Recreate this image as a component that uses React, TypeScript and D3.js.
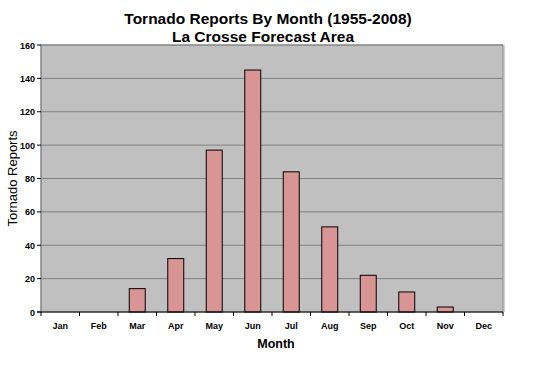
import * as d3 from "d3";

const months = ["Jan", "Feb", "Mar", "Apr", "May", "Jun", "Jul", "Aug", "Sep", "Oct", "Nov", "Dec"];
const reports = [0, 0, 14, 32, 97, 145, 84, 51, 22, 12, 3, 0];
const yTicks = [0, 20, 40, 60, 80, 100, 120, 140, 160];

const W = 540, H = 368;
const plot = { left: 41, right: 503, top: 45, bottom: 312 };

const x = d3.scaleBand()
  .domain(months)
  .range([plot.left, plot.right])
  .paddingInner(0.585)
  .paddingOuter(0.2925);

const band = d3.scaleBand().domain(months).range([plot.left, plot.right]);

const y = d3.scaleLinear().domain([0, 160]).range([plot.bottom, plot.top]);

const font = "Arial, 'Liberation Sans', sans-serif";

export default function App() {
  return (
    <svg width={W} height={H} style={{ position: "absolute", left: 0, top: 0, fontFamily: font }}>
      <rect width={W} height={H} fill="#fff" />
      <text x={268} y={24} textAnchor="middle" fontSize={15.5} fontWeight="bold">Tornado Reports By Month (1955-2008)</text>
      <text x={263} y={42} textAnchor="middle" fontSize={15.5} fontWeight="bold">La Crosse Forecast Area</text>

      <rect x={plot.left} y={plot.top} width={plot.right - plot.left} height={plot.bottom - plot.top}
        fill="#c0c0c0" stroke="#8c8c8c" strokeWidth={1} />
      <line x1={plot.right + 1} x2={plot.right + 1} y1={plot.top} y2={plot.bottom} stroke="#a0a0a0" />

      {yTicks.filter(t => t > 0).map(t => (
        <line key={t} x1={plot.left} x2={plot.right} y1={y(t)} y2={y(t)} stroke="#808080" strokeWidth={1} />
      ))}

      {months.map((m, i) => (
        <rect key={m} x={x(m)} y={y(reports[i])} width={x.bandwidth()}
          height={y(0) - y(reports[i])} fill="#d99594" stroke="#000" strokeWidth={1}
          visibility={reports[i] > 0 ? "visible" : "hidden"} />
      ))}

      <line x1={plot.left} x2={plot.left} y1={plot.top} y2={plot.bottom} stroke="#808080" />
      <line x1={plot.left - 4} x2={plot.right} y1={plot.bottom} y2={plot.bottom} stroke="#000" />

      {yTicks.map(t => (
        <g key={t}>
          <line x1={plot.left - 4} x2={plot.left} y1={y(t)} y2={y(t)} stroke="#000" />
          <text x={plot.left - 6} y={y(t) + 3.5} textAnchor="end" fontSize={9} fontWeight="bold">{t}</text>
        </g>
      ))}

      {months.map((m, i) => (
        <g key={m}>
          <line x1={band(m)!} x2={band(m)!} y1={plot.bottom} y2={plot.bottom + 4} stroke="#000" />
          {i === months.length - 1 && (
            <line x1={plot.right} x2={plot.right} y1={plot.bottom} y2={plot.bottom + 4} stroke="#000" />
          )}
          <text x={band(m)! + band.bandwidth() / 2} y={329} textAnchor="middle" fontSize={9} fontWeight="bold">{m}</text>
        </g>
      ))}

      <text x={276} y={348} textAnchor="middle" fontSize={12.5} fontWeight="bold">Month</text>
      <text transform={`translate(17,${(plot.top + plot.bottom) / 2}) rotate(-90)`} textAnchor="middle"
        fontSize={13}>Tornado Reports</text>
    </svg>
  );
}
